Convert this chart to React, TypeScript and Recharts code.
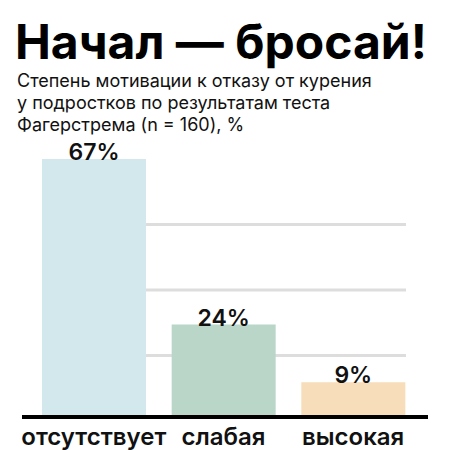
import { BarChart, Bar, XAxis, YAxis, CartesianGrid, LabelList, Cell } from 'recharts';

const categories = ['отсутствует', 'слабая', 'высокая'];
const shares = [67, 24, 9];
const barColors = ['#d3e8ec', '#b9d6c9', '#f7ddb9'];
const gridTicks = [16, 33, 50];

const title = 'Начал — бросай!';
const subtitleLines = [
    'Степень мотивации к отказу от курения',
    'у подростков по результатам теста',
    'Фагерстрема (n = 160), %',
];

const data = categories.map((name, i) => ({ name, value: shares[i] }));

const font = 'Inter, "Noto Sans", sans-serif';

export default function App() {
    return (
        <div style={{ position: 'absolute', left: 0, top: 0, width: 450, height: 450, background: '#fff', fontFamily: font }}>
            <div style={{ position: 'absolute', left: 15, top: 18, fontSize: 48, lineHeight: '48px', fontWeight: 700, color: '#000', whiteSpace: 'nowrap' }}>
                {title}
            </div>
            <div style={{ position: 'absolute', left: 17, top: 70, fontSize: 18, lineHeight: '22px', color: '#111' }}>
                {subtitleLines.map((line) => (
                    <div key={line} style={{ whiteSpace: 'nowrap' }}>{line}</div>
                ))}
            </div>
            <BarChart
                style={{ position: 'absolute', left: 0, top: 0 }}
                width={450}
                height={450}
                data={data}
                margin={{ top: 147.5, right: 22, left: 22, bottom: 3 }}
            >
                <CartesianGrid
                    vertical={false}
                    horizontalValues={gridTicks}
                    x={42}
                    width={364}
                    stroke="#dddddd"
                    strokeWidth={3}
                />
                <YAxis hide domain={[0, 70]} ticks={gridTicks} />
                <XAxis
                    dataKey="name"
                    padding={{ left: 7, right: 10 }}
                    height={30}
                    axisLine={{ stroke: '#000', strokeWidth: 4 }}
                    tickLine={false}
                    tickSize={0}
                    tickMargin={11}
                    interval={0}
                    tick={{ fill: '#111', fontSize: 24, fontWeight: 600, fontFamily: font }}
                />
                <Bar dataKey="value" barSize={104} isAnimationActive={false}>
                    {data.map((d, i) => (
                        <Cell key={d.name} fill={barColors[i]} />
                    ))}
                    <LabelList
                        dataKey="value"
                        position="top"
                        offset={-1}
                        formatter={(v: number) => `${v}%`}
                        style={{ fill: '#111', fontSize: 23, fontWeight: 600, fontFamily: font }}
                    />
                </Bar>
            </BarChart>
        </div>
    );
}
